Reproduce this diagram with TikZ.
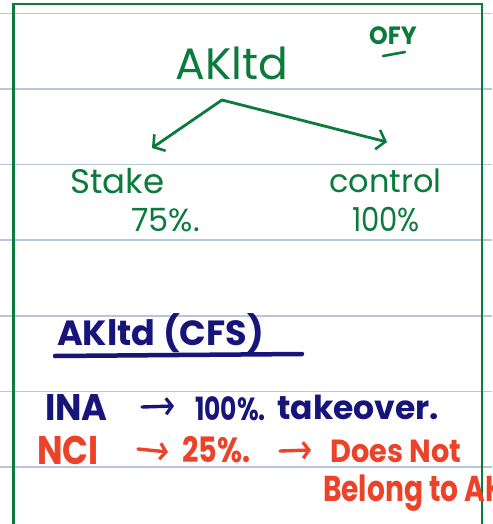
\documentclass[tikz,border=0pt]{standalone}
\usepackage{fontspec}
\setmainfont{Poppins}
\usetikzlibrary{arrows.meta}
\definecolor{rule}{HTML}{B8C6DC}
\definecolor{pen}{HTML}{0B7A3C}
\definecolor{ink}{HTML}{17157A}
\definecolor{redink}{HTML}{EC4229}
\tikzset{
  gtext/.style={text=pen, inner sep=0pt},
  btext/.style={text=ink, inner sep=0pt},
  rtext/.style={text=redink, inner sep=0pt},
  garrow/.style={draw=pen, line width=2.8pt, line cap=round, line join=round,
    -{Straight Barb[length=8pt,width=20pt,line width=2.6pt]}},
  barrow/.style={draw=ink, line width=3.4pt, line cap=round,
    -{Straight Barb[length=6pt,width=16pt,line width=3.2pt]}},
  rarrow/.style={draw=redink, line width=3.4pt, line cap=round,
    -{Straight Barb[length=6pt,width=16pt,line width=3.2pt]}},
}
\begin{document}
\begin{tikzpicture}[x=1pt,y=-1pt]
  \path[use as bounding box] (0,0) rectangle (492,524);
  \clip (0,0) rectangle (492,524);
  \fill[white] (0,0) rectangle (492,524);
  % ruled notebook lines
  \foreach \yy in {13.5,89,164.5,240,316,391.5,467}
    \draw[rule, line width=1.2pt] (0,\yy) -- (492,\yy);
  % green frame
  \draw[pen, line width=2.6pt] (13.5,530) -- (13.5,4) -- (482,4) -- (482,530);

  % top tree
  \node[gtext, font=\fontsize{25}{25}\selectfont\bfseries, xscale=0.95] (ofy) at (393,36) {OFY};
  \draw[pen, line width=2.6pt, line cap=round] (383,56) -- (405,52);
  \node[gtext, font=\fontsize{44}{44}\selectfont, anchor=base] (akltd) at (232,80) {AKltd};
  \coordinate (apex) at (222,100);
  \coordinate (lend) at (152,148);
  \coordinate (rend) at (387,142);
  \draw[garrow] (apex) -- (lend);
  \draw[garrow] (apex) -- (rend);
  \node[gtext, font=\fontsize{34}{34}\selectfont, anchor=base west] (stake) at (70,193) {Stake};
  \node[gtext, font=\fontsize{32}{32}\selectfont, anchor=base west] (sv) at (131,231) {75\%.};
  \node[gtext, font=\fontsize{32}{32}\selectfont, anchor=base west] (control) at (329,192) {control};
  \node[gtext, font=\fontsize{33}{33}\selectfont, anchor=base west, xscale=0.88] (cv) at (352,231) {100\%};

  % consolidated heading
  \node[btext, font=\fontsize{35}{35}\selectfont\bfseries, anchor=base west] (cfs) at (57,345) {AKltd (CFS)};
  \draw[ink, line width=4.5pt, line cap=round] (55,356) -- (302,354);

  % identifiable net assets line
  \node[btext, font=\fontsize{37}{37}\selectfont\bfseries, anchor=base west, xscale=0.95] (ina) at (45,420) {INA};
  \node[btext, font=\fontsize{32}{32}\selectfont\bfseries, anchor=base west, xscale=0.78] (hund) at (195,420) {100\%.};
  \node[btext, font=\fontsize{33}{33}\selectfont\bfseries, anchor=base west] (take) at (277,419) {takeover.};
  \coordinate (b1s) at (142,407);
  \coordinate (b1e) at (174,406);
  \draw[barrow] (b1s) -- (b1e);

  % non-controlling interest line
  \node[rtext, font=\fontsize{40}{40}\selectfont\bfseries, anchor=base west, xscale=0.85] (nci) at (37,464) {NCI};
  \node[rtext, font=\fontsize{35}{35}\selectfont\bfseries, anchor=base west, xscale=0.82] (tf) at (182,462) {25\%.};
  \node[rtext, font=\fontsize{32}{32}\selectfont\bfseries, anchor=base west, xscale=0.9] (dn) at (330,462) {Does Not};
  \node[rtext, font=\fontsize{36}{36}\selectfont\bfseries, anchor=base west, xscale=0.78] (bel) at (323,501) {Belong to AK};
  \coordinate (r1s) at (138,449);
  \coordinate (r1e) at (168,452);
  \coordinate (r2s) at (280,451);
  \coordinate (r2e) at (311,450);
  \draw[rarrow] (r1s) -- (r1e);
  \draw[rarrow] (r2s) -- (r2e);
\end{tikzpicture}
\end{document}
